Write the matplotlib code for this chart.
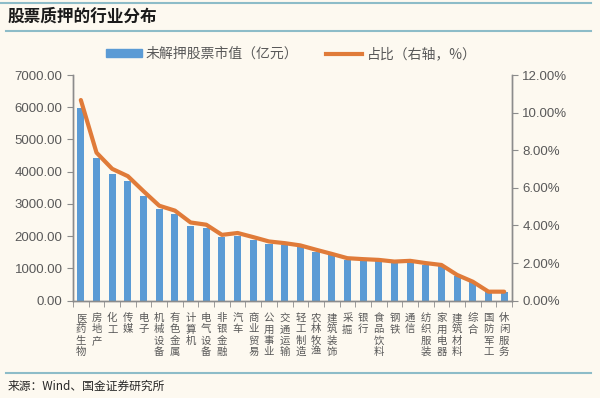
import matplotlib.pyplot as plt
from matplotlib.lines import Line2D
from matplotlib.patches import Patch
import numpy as np

plt.rcParams['font.family'] = ['Noto Sans CJK SC', 'DejaVu Sans']

# data
industries = ["医药生物", "房地产", "化工", "传媒", "电子", "机械设备", "有色金属", "计算机",
              "电气设备", "非银金融", "汽车", "商业贸易", "公用事业", "交通运输", "轻工制造",
              "农林牧渔", "建筑装饰", "采掘", "银行", "食品饮料", "钢铁", "通信", "纺织服装",
              "家用电器", "建筑材料", "综合", "国防军工", "休闲服务"]
pledged_value = [5990, 4440, 3920, 3710, 3250, 2830, 2680, 2330,
                 2260, 1970, 2020, 1890, 1770, 1720, 1650,
                 1520, 1410, 1270, 1240, 1220, 1170, 1190, 1120,
                 1070, 770, 570, 270, 270]
share_pct = [10.67, 7.87, 7.01, 6.62, 5.82, 5.05, 4.79, 4.16,
             4.04, 3.50, 3.60, 3.38, 3.15, 3.06, 2.94,
             2.71, 2.49, 2.26, 2.21, 2.17, 2.08, 2.12, 2.00,
             1.90, 1.37, 1.01, 0.48, 0.48]
left_ticks = [0, 1000, 2000, 3000, 4000, 5000, 6000, 7000]
right_ticks = [0, 2, 4, 6, 8, 10, 12]

bg = "#FDF9F0"
bar_color = "#5B9BD5"
line_color = "#E07B39"
rule_color = "#8DBCC8"
axis_color = "#8C8C8C"
text_color = "#595959"

fig = plt.figure(figsize=(6.0, 3.98), dpi=100, facecolor=bg)

# header / footer rules and texts
fig.add_artist(Line2D([0.0, 0.985], [1 - 3/398, 1 - 3/398], color=rule_color, lw=1.5))
fig.add_artist(Line2D([0.01, 0.985], [1 - 31/398, 1 - 31/398], color=rule_color, lw=1.5))
fig.add_artist(Line2D([0.01, 0.985], [1 - 373/398, 1 - 373/398], color=rule_color, lw=1.5))
fig.text(0.012, 1 - 17/398, "股票质押的行业分布", fontsize=12, fontweight="bold",
         style="italic", color="#1a1a1a", va="center", ha="left")
fig.text(0.012, 1 - 386/398, "来源：Wind、国金证券研究所", fontsize=8.5,
         color="#262626", va="center", ha="left")

ax = fig.add_axes([73/600, 1 - 300.7/398, 439/600, (300.7 - 75)/398])
ax.set_facecolor(bg)
x = np.arange(len(industries))
ax.bar(x, pledged_value, width=0.45, color=bar_color, zorder=2)
ax.set_xlim(-0.5, len(industries) - 0.5)
ax.set_ylim(0, 7000)
ax.set_yticks(left_ticks)
ax.set_yticklabels([f"{v:.2f}" for v in left_ticks], fontfamily="Liberation Sans",
                   fontsize=9.5, color=text_color)

ax.set_xticks(x)
ax.set_xticklabels(["\n".join(name) for name in industries], fontsize=7.5,
                   color=text_color, linespacing=1.15)
ax.set_xticks(np.arange(-0.5, len(industries), 1), minor=True)
ax.tick_params(axis="x", which="major", length=0, pad=9)
ax.tick_params(axis="x", which="minor", length=4, color=axis_color, direction="out")
ax.tick_params(axis="y", length=4, color=axis_color, direction="out")

ax2 = ax.twinx()
ax2.plot(x, share_pct, color=line_color, lw=3, solid_capstyle="round", zorder=3)
ax2.set_ylim(0, 12)
ax2.set_yticks(right_ticks)
ax2.set_yticklabels([f"{v:.2f}%" for v in right_ticks], fontfamily="Liberation Sans",
                    fontsize=9.5, color=text_color)
ax2.tick_params(axis="y", length=4, color=axis_color, direction="out")

for a in (ax, ax2):
    a.spines["top"].set_visible(False)
    for side in ("left", "right", "bottom"):
        a.spines[side].set_color(axis_color)
        a.spines[side].set_linewidth(1.0)

handles = [Patch(color=bar_color), Line2D([0], [0], color=line_color, lw=3)]
labels = ["未解押股票市值（亿元）", "占比（右轴，%）"]
fig.legend(handles, labels, loc="center", bbox_to_anchor=(0.485, 1 - 54/398), ncol=2,
           frameon=False, fontsize=10, labelcolor=text_color, handlelength=2.6,
           handleheight=0.45, columnspacing=2.0, handletextpad=0.3)

fig.savefig("out.png", dpi=100, facecolor=bg)
